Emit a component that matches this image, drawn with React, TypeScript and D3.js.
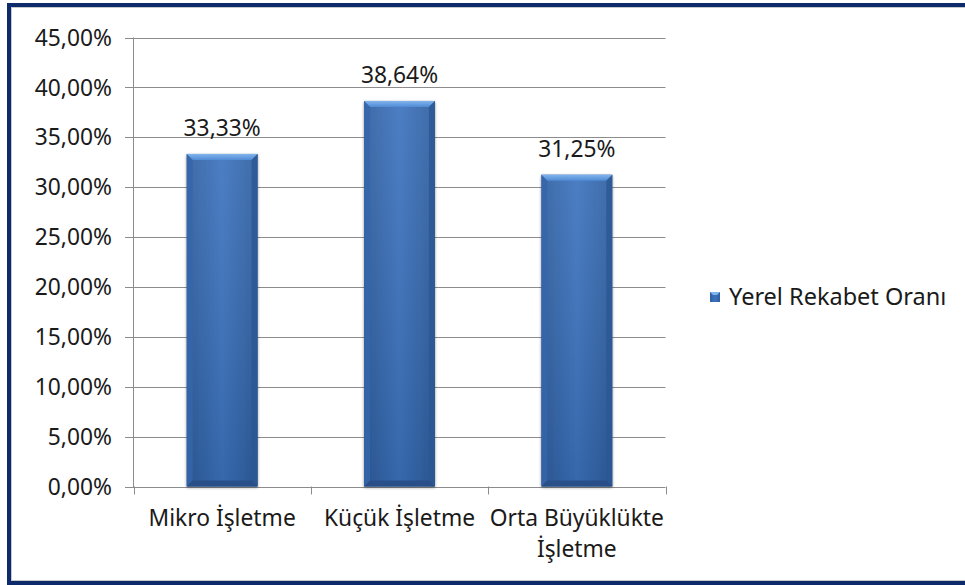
import React from "react"
import * as d3 from "d3"

// Yerel rekabet oranı, işletme büyüklüğüne göre
const categories = ["Mikro İşletme", "Küçük İşletme", "Orta Büyüklükte İşletme"]
const categoryLines = [["Mikro İşletme"], ["Küçük İşletme"], ["Orta Büyüklükte", "İşletme"]]
const values = [33.33, 38.64, 31.25]
const yTicks = [0, 5, 10, 15, 20, 25, 30, 35, 40, 45]
const seriesName = "Yerel Rekabet Oranı"

const W = 965
const H = 585
const FONT = "'Noto Sans', 'DejaVu Sans', sans-serif"
const FS = 22.8
const fmt = (v: number) => v.toFixed(2).replace(".", ",") + "%"

export default function App() {
  const x = d3.scaleBand<string>().domain(categories).range([133.5, 665.5]).paddingInner(0.6).paddingOuter(0.3)
  const y = d3.scaleLinear().domain([0, 45]).range([486.5, 37.5])
  const step = x.step()
  const left = x.range()[0]
  const bev = 6

  return (
    <div style={{ position: "fixed", left: 0, top: 0, width: W, height: H, background: "#fff" }}>
      <svg width={W} height={H} style={{ display: "block" }} fontFamily={FONT}>
        <defs>
          <linearGradient id="barBody" x1="0" x2="1" y1="0" y2="0">
            <stop offset="0" stopColor="#2f5e9f" />
            <stop offset="0.5" stopColor="#3c73bf" />
            <stop offset="1" stopColor="#2f5e9f" />
          </linearGradient>
          <linearGradient id="barV" x1="0" x2="0" y1="0" y2="1">
            <stop offset="0" stopColor="#ffffff" stopOpacity="0.08" />
            <stop offset="1" stopColor="#000000" stopOpacity="0.1" />
          </linearGradient>
          <linearGradient id="barTop" x1="0" x2="0" y1="0" y2="1">
            <stop offset="0" stopColor="#82b4ec" />
            <stop offset="1" stopColor="#4f8bd5" />
          </linearGradient>
          <filter id="shadow" x="-20%" y="-20%" width="140%" height="140%">
            <feGaussianBlur in="SourceAlpha" stdDeviation="1.6" />
            <feOffset dx="0" dy="1" result="b" />
            <feComponentTransfer>
              <feFuncA type="linear" slope="0.45" />
            </feComponentTransfer>
            <feMerge>
              <feMergeNode />
              <feMergeNode in="SourceGraphic" />
            </feMerge>
          </filter>
        </defs>

        {/* frame */}
        <rect x={9} y={5} width={W + 10} height={578} fill="none" stroke="#0d2a6a" strokeWidth={4} />
        <rect x={11.5} y={7.5} width={W + 10} height={573} fill="none" stroke="#c8c8c8" strokeWidth={1} />

        {/* gridlines and y axis */}
        {yTicks.map((t) => (
          <g key={t}>
            <line x1={125} x2={665.5} y1={Math.round(y(t)) + 0.5} y2={Math.round(y(t)) + 0.5} stroke="#8c8c8c" strokeWidth={1} />
            <text x={112} y={y(t)} dy="0.36em" textAnchor="end" fontSize={FS} fill="#1a1a1a">
              {fmt(t)}
            </text>
          </g>
        ))}
        <line x1={133.5} x2={133.5} y1={y(45)} y2={y(0) + 0.5} stroke="#8c8c8c" />
        {d3.range(categories.length + 1).map((i) => {
          const tx = Math.round(left + i * step) + 0.5
          return <line key={i} x1={tx} x2={tx} y1={y(0)} y2={y(0) + 8} stroke="#8c8c8c" />
        })}

        {/* bars */}
        {categories.map((c, i) => {
          const x0 = x(c) as number
          const w = x.bandwidth()
          const top = y(values[i])
          const bot = y(0)
          return (
            <g key={c}>
              <rect x={x0} y={top} width={w} height={bot - top} fill="url(#barBody)" filter="url(#shadow)" />
              <rect x={x0} y={top} width={w} height={bot - top} fill="url(#barV)" />
              <polygon
                points={`${x0},${top} ${x0 + w},${top} ${x0 + w - bev},${top + bev} ${x0 + bev},${top + bev}`}
                fill="url(#barTop)"
              />
              <polygon
                points={`${x0},${top} ${x0 + bev},${top + bev} ${x0 + bev},${bot - bev} ${x0},${bot}`}
                fill="#3466aa"
                opacity={0.8}
              />
              <polygon
                points={`${x0 + w},${top} ${x0 + w - bev},${top + bev} ${x0 + w - bev},${bot - bev} ${x0 + w},${bot}`}
                fill="#2b5794"
                opacity={0.8}
              />
              <polygon
                points={`${x0},${bot} ${x0 + bev},${bot - bev} ${x0 + w - bev},${bot - bev} ${x0 + w},${bot}`}
                fill="#284f88"
              />
              <text x={x0 + w / 2} y={top - 18} textAnchor="middle" fontSize={FS} fill="#1a1a1a">
                {fmt(values[i])}
              </text>
            </g>
          )
        })}

        {/* category labels */}
        {categories.map((c, i) => (
          <text key={c} x={left + (i + 0.5) * step} y={526} textAnchor="middle" fontSize={FS} fill="#1a1a1a">
            {categoryLines[i].map((ln, j) => (
              <tspan key={j} x={left + (i + 0.5) * step} dy={j === 0 ? 0 : 31}>
                {ln}
              </tspan>
            ))}
          </text>
        ))}

        {/* legend */}
        <g>
          <rect x={710} y={292} width={10} height={10} fill="url(#barBody)" />
          <polygon points="710,292 720,292 717,295 713,295" fill="#82b4ec" />
          <text x={729} y={297} dy="0.36em" fontSize={FS + 0.7} fill="#1a1a1a">
            {seriesName}
          </text>
        </g>
      </svg>
    </div>
  )
}
